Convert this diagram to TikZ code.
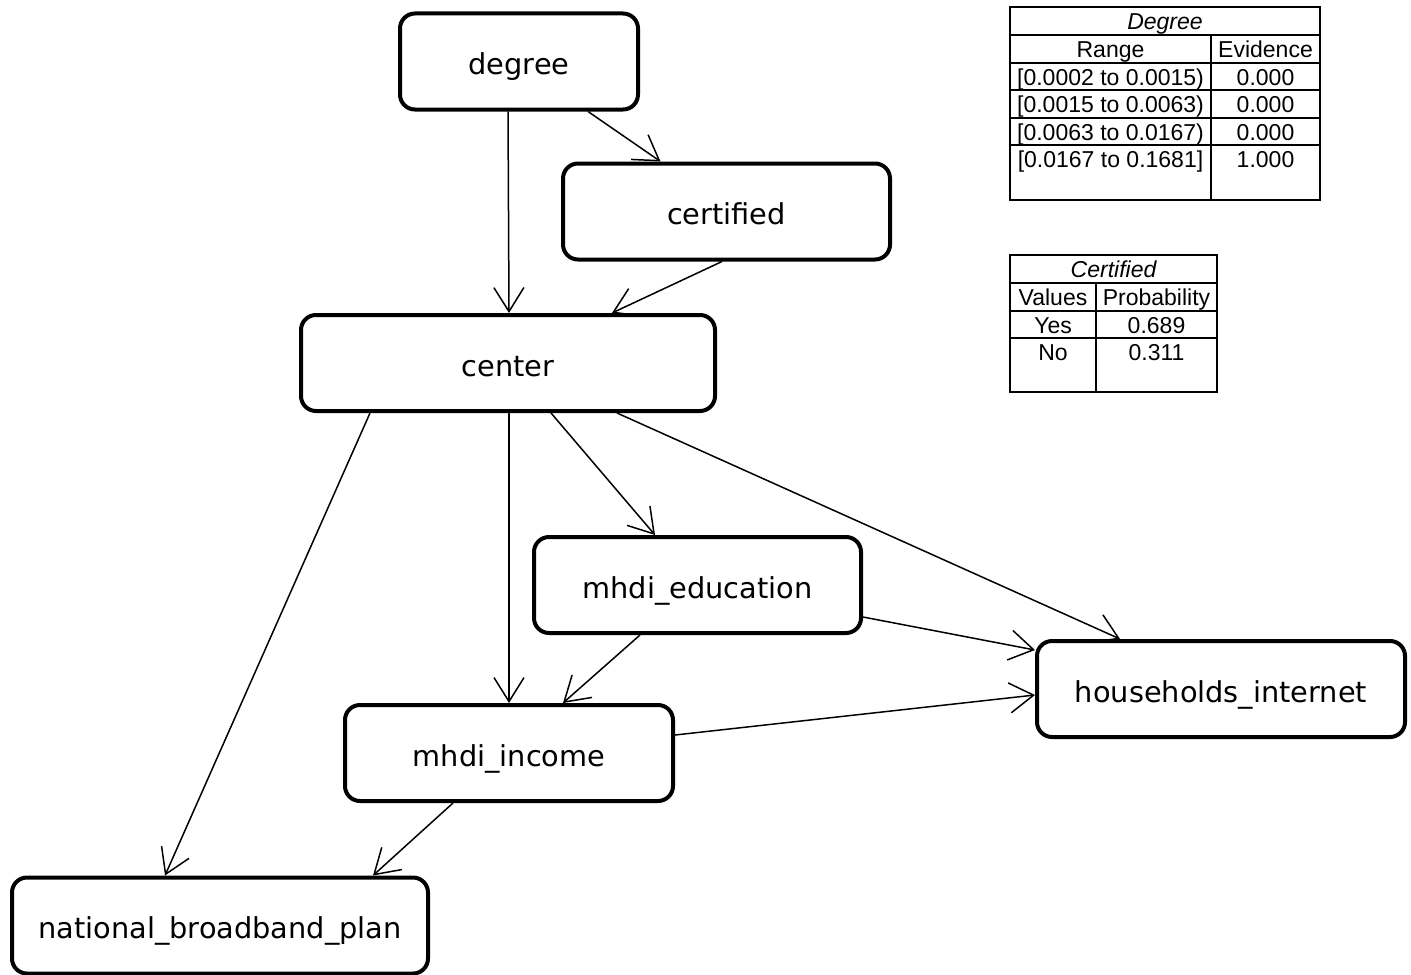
\documentclass[tikz,border=0pt]{standalone}
\usepackage{fontspec}
\setmainfont{DejaVu Sans}
\newfontfamily\tablefont{Liberation Sans}
\usetikzlibrary{arrows.meta}
\usetikzlibrary{positioning}

\begin{document}
\begin{tikzpicture}[x=0.5pt, y=-0.5pt]

        % look of the network boxes and of the links
        \tikzset{
            var/.style={draw, line width=2pt, rounded corners=7.5pt,
                minimum height=48pt, text height=14pt, text depth=1pt,
                font=\fontsize{14.4}{16}\selectfont},
            link/.style={line width=0.75pt,
                -{Straight Barb[length=12pt, width=15pt, line width=0.75pt]}},
            cell/.style={inner sep=0pt, text height=8.2pt, text depth=0pt,
                font=\tablefont\fontsize{11.5}{13}\selectfont},
            rule/.style={line width=0.7pt}
        }

        \useasboundingbox (0, 0) rectangle (1411, 974);

        % Scope with the variables of the network
        \begin{scope}
            \node[var, minimum width=119pt] (degree) at (519, 61.5) {degree};
            \node[var, minimum width=163.5pt] (certified) at (726.5, 211.5) {certified};
            \node[var, minimum width=207pt] (center) at (508, 363) {center};
            \node[var, minimum width=163.5pt] (education) at (697.5, 585) {mhdi\_education};
            \node[var, minimum width=184pt] (households) at (1221, 689) {households\_internet};
            \node[var, minimum width=164pt] (income) at (509, 753) {mhdi\_income};
            \node[var, minimum width=208pt] (broadband) at (220, 925.5) {national\_broadband\_plan};
        \end{scope}

        \begin{scope}
            \draw[link] ([xshift=-5.5pt]degree.south) -- ([xshift=0.5pt]center.north);
            \draw[link] ([xshift=34.5pt]degree.south) -- ([xshift=-33pt]certified.north);
            \draw[link] ([xshift=-2.25pt]certified.south) -- ([xshift=52pt]center.north);
            \draw[link] ([xshift=-69pt]center.south) -- ([xshift=-27.5pt]broadband.north);
            \draw[link] ([xshift=0.5pt]center.south) -- (income.north);
            \draw[link] ([xshift=21.5pt]center.south) -- ([xshift=-21.25pt]education.north);
            \draw[link] ([xshift=54.5pt]center.south) -- ([xshift=-50.5pt]households.north);
            \draw[link] ([yshift=-16pt]education.east) -- ([yshift=19.5pt]households.west);
            \draw[link] ([xshift=-28.75pt]education.south) -- ([xshift=27pt]income.north);
            \draw[link] ([yshift=9pt]income.east) -- ([yshift=-3pt]households.west);
            \draw[link] ([xshift=-28pt]income.south) -- ([xshift=76.5pt]broadband.north);
        \end{scope}

        % Table of the evidence on degree
        \begin{scope}
            \draw[rule] (1010, 7) rectangle (1320, 200);
            \foreach \y in {35, 63, 90, 118, 145}
                \draw[rule] (1010, \y) -- (1320, \y);
            \draw[rule] (1211, 35) -- (1211, 200);
            \node[cell] (degreetitle) at (1165, 21) {\itshape Degree};
            \node[cell] (degreerange) at (1110.5, 49) {Range};
            \node[cell] (degreeev) at (1265.5, 49) {Evidence};
            \node[cell] (dr1) at (1110.5, 77) {[0.0002 to 0.0015)};
            \node[cell] (dr2) at (1110.5, 104) {[0.0015 to 0.0063)};
            \node[cell] (dr3) at (1110.5, 132) {[0.0063 to 0.0167)};
            \node[cell] (dr4) at (1110.5, 159) {[0.0167 to 0.1681]};
            \node[cell] (de1) at (1265.5, 77) {0.000};
            \node[cell] (de2) at (1265.5, 104) {0.000};
            \node[cell] (de3) at (1265.5, 132) {0.000};
            \node[cell] (de4) at (1265.5, 159) {1.000};
        \end{scope}

        % Table of the probabilities of certified
        \begin{scope}
            \draw[rule] (1010, 255) rectangle (1217, 392);
            \foreach \y in {283, 311, 338}
                \draw[rule] (1010, \y) -- (1217, \y);
            \draw[rule] (1096, 283) -- (1096, 392);
            \node[cell] (certtitle) at (1113.5, 269) {\itshape Certified};
            \node[cell] (certvalues) at (1053, 297) {Values};
            \node[cell] (certprob) at (1156.5, 297) {Probability};
            \node[cell] (cv1) at (1053, 325) {Yes};
            \node[cell] (cv2) at (1053, 352) {No};
            \node[cell] (cp1) at (1156.5, 325) {0.689};
            \node[cell] (cp2) at (1156.5, 352) {0.311};
        \end{scope}

        \end{tikzpicture}
\end{document}
